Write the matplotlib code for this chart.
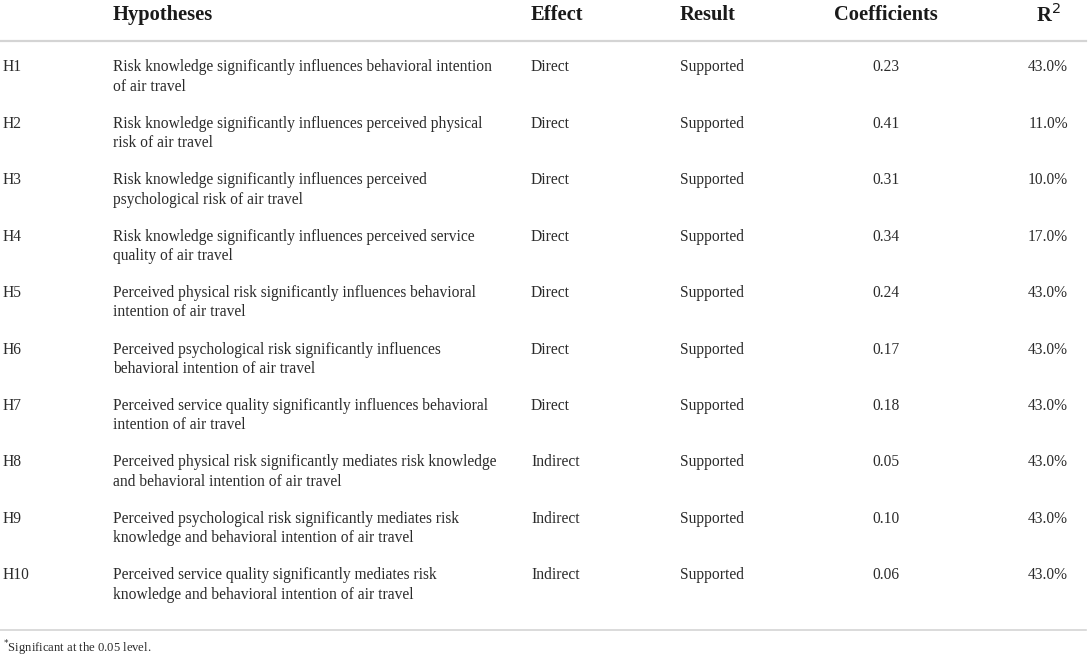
import matplotlib
matplotlib.use("Agg")
import matplotlib.pyplot as plt

W, H = 1089, 659

columns = ["Hypotheses", "Effect", "Result", "Coefficients", "R$^{2}$"]
ids = ["H1", "H2", "H3", "H4", "H5", "H6", "H7", "H8", "H9", "H10"]
hypotheses = [
    "Risk knowledge significantly influences behavioral intention\nof air travel",
    "Risk knowledge significantly influences perceived physical\nrisk of air travel",
    "Risk knowledge significantly influences perceived\npsychological risk of air travel",
    "Risk knowledge significantly influences perceived service\nquality of air travel",
    "Perceived physical risk significantly influences behavioral\nintention of air travel",
    "Perceived psychological risk significantly influences\nbehavioral intention of air travel",
    "Perceived service quality significantly influences behavioral\nintention of air travel",
    "Perceived physical risk significantly mediates risk knowledge\nand behavioral intention of air travel",
    "Perceived psychological risk significantly mediates risk\nknowledge and behavioral intention of air travel",
    "Perceived service quality significantly mediates risk\nknowledge and behavioral intention of air travel",
]
effects = ["Direct"] * 7 + ["Indirect"] * 3
results = ["Supported"] * 10
coefficients = [0.23, 0.41, 0.31, 0.34, 0.24, 0.17, 0.18, 0.05, 0.10, 0.06]
r2 = [43.0, 11.0, 10.0, 17.0, 43.0, 43.0, 43.0, 43.0, 43.0, 43.0]
footnote = "Significant at the 0.05 level."

plt.rcParams["font.family"] = ["Liberation Serif", "DejaVu Serif"]
fig = plt.figure(figsize=(W / 100, H / 100), dpi=100)

def fx(px):
    return px / W

def fy(py):
    return 1 - py / H

txt_col = "#2b2b2b"
fs = 11.2

# header
hdr_x = [113, 531, 680, 886, 1048]
hdr_ha = ["left", "left", "left", "center", "center"]
for c, x, ha in zip(columns, hdr_x, hdr_ha):
    fig.text(fx(x), fy(15), c, ha=ha, va="center", fontsize=14.8, fontweight="bold", color="#1a1a1a")

fig.add_artist(plt.Line2D([0, fx(1086)], [fy(41), fy(41)], color="#d4d4d4", lw=1.6))
fig.add_artist(plt.Line2D([0, fx(1086)], [fy(630), fy(630)], color="#d4d4d4", lw=1.2))

row0, step, second = 67.3, 56.45, 19.4
for i in range(len(ids)):
    y = row0 + i * step
    fig.text(fx(3), fy(y), ids[i], ha="left", va="center", fontsize=fs, color=txt_col)
    for k, line in enumerate(hypotheses[i].split("\n")):
        fig.text(fx(113), fy(y + k * second), line, ha="left", va="center", fontsize=fs, color=txt_col)
    fig.text(fx(531), fy(y), effects[i], ha="left", va="center", fontsize=fs, color=txt_col)
    fig.text(fx(680), fy(y), results[i], ha="left", va="center", fontsize=fs, color=txt_col)
    fig.text(fx(886), fy(y), f"{coefficients[i]:.2f}", ha="center", va="center", fontsize=fs, color=txt_col)
    fig.text(fx(1048), fy(y), f"{r2[i]:.1f}%", ha="center", va="center", fontsize=fs, color=txt_col)

fig.text(fx(3), fy(648), "$^{*}$" + footnote, ha="left", va="center", fontsize=9.1, color=txt_col)

fig.savefig("out.png", dpi=100)
